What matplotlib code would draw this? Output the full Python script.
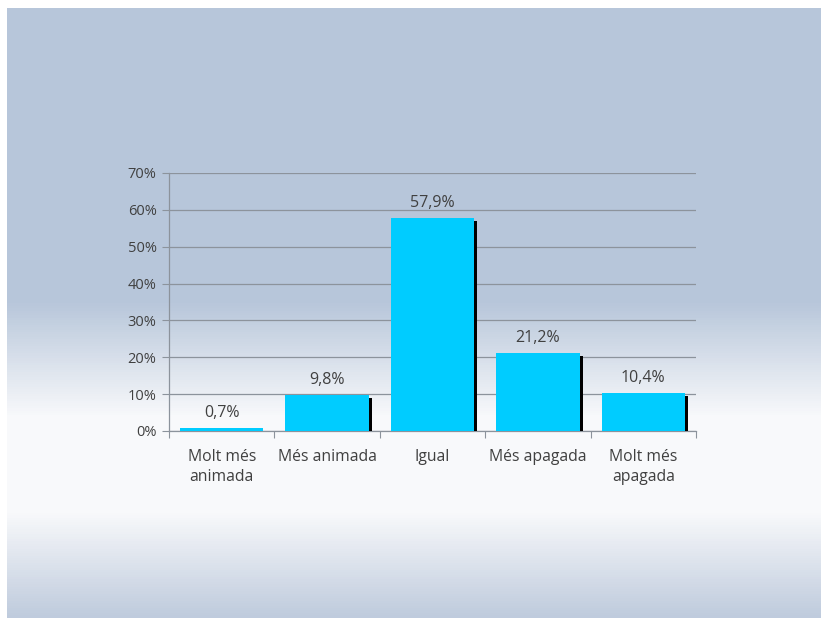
import matplotlib
matplotlib.use('Agg')
import matplotlib.pyplot as plt
import matplotlib.patheffects as pe
import numpy as np
from matplotlib.colors import LinearSegmentedColormap

categories = ['Molt més\nanimada', 'Més animada', 'Igual', 'Més apagada', 'Molt més\napagada']
values = [0.7, 9.8, 57.9, 21.2, 10.4]
value_labels = ['0,7%', '9,8%', '57,9%', '21,2%', '10,4%']
y_ticks = [0, 10, 20, 30, 40, 50, 60, 70]

plt.rcParams['font.family'] = ['Open Sans', 'DejaVu Sans']
text_color = '#404040'

fig = plt.figure(figsize=(8.21, 6.18), dpi=100)
fig.patch.set_facecolor('white')

# slide background: blue at the top, white band low in the middle, blue again at the bottom
bg = fig.add_axes([7 / 821, 0, 1 - 7 / 821, 1 - 8 / 618])
bg.set_axis_off()
blue = '#b7c6da'
white = '#f8f9fb'
cmap = LinearSegmentedColormap.from_list('slide', [
    (0.0, blue), (0.48, blue), (0.67, white), (0.83, white), (1.0, '#bfcbdd')])
grad = np.linspace(0, 1, 610).reshape(-1, 1)
bg.imshow(grad, aspect='auto', cmap=cmap, extent=[0, 1, 1, 0], interpolation='nearest')
bg.set_xlim(0, 1)
bg.set_ylim(1, 0)

ax = fig.add_axes([169 / 821, 1 - 431 / 618, (696 - 169) / 821, (431 - 173) / 618])
ax.patch.set_alpha(0)

x = np.arange(len(categories))
bars = ax.bar(x, values, width=0.79, color='#00ccff', zorder=3)
for b in bars:
    b.set_path_effects([pe.SimplePatchShadow(offset=(2.2, -2.2), shadow_rgbFace='black', alpha=1.0),
                        pe.Normal()])

for xi, v, lab in zip(x, values, value_labels):
    ax.annotate(lab, (xi, v), xytext=(0, 5), textcoords='offset points',
                ha='center', va='bottom', fontsize=11.5, color=text_color)

ax.set_ylim(0, 70)
ax.set_xlim(-0.5, len(categories) - 0.5)
ax.set_yticks(y_ticks)
ax.set_yticklabels([f'{t}%' for t in y_ticks], fontsize=10.5, color=text_color)
ax.yaxis.grid(True, color='#8c939c', linewidth=0.9, zorder=0)
ax.set_axisbelow(True)

ax.set_xticks(np.arange(-0.5, len(categories), 1.0))
ax.set_xticklabels([])
ax.set_xticks(x, minor=True)
ax.set_xticklabels(categories, minor=True, fontsize=11.3, color=text_color, linespacing=1.3)
ax.tick_params(axis='x', which='minor', length=0, pad=13)
ax.tick_params(axis='x', which='major', length=5, color='#8c939c')
ax.tick_params(axis='y', length=5, color='#8c939c', pad=4)

for side in ['top', 'right']:
    ax.spines[side].set_visible(False)
for side in ['left', 'bottom']:
    ax.spines[side].set_color('#8c939c')
    ax.spines[side].set_linewidth(0.9)

fig.savefig('out.png', dpi=100)
